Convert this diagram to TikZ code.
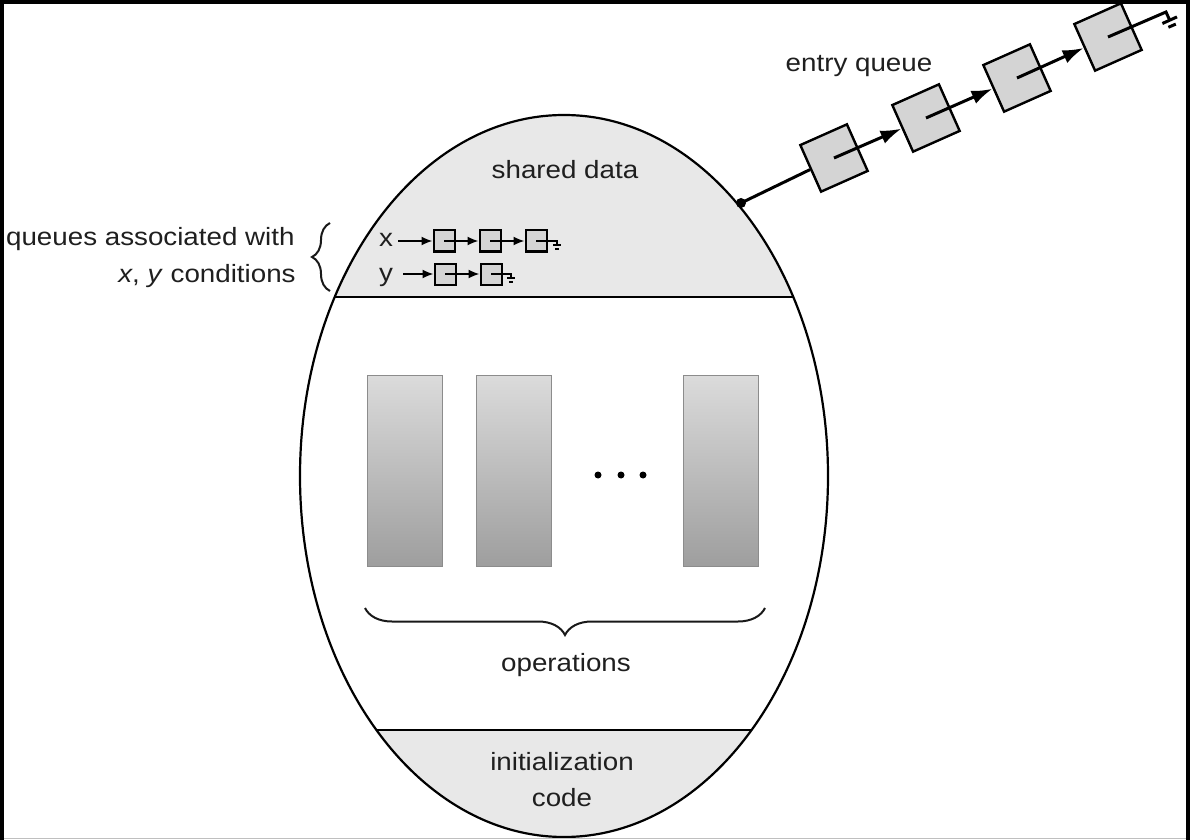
\documentclass[tikz,border=0pt]{standalone}
\usepackage{fontspec}
\setmainfont[FakeStretch=1.11]{Liberation Sans}
\usetikzlibrary{arrows.meta,decorations.pathreplacing,calc}
\begin{document}
\begin{tikzpicture}[x=0.5pt,y=-0.5pt,
  txt/.style={font=\fontsize{12.5pt}{15pt}\selectfont, text=black!88, inner sep=0pt, anchor=base},
  qbox/.style={draw, line width=1pt, fill=black!17, minimum size=10.5pt, inner sep=0pt},
  ebox/.style={draw, line width=1.2pt, fill=black!17, minimum size=25.5pt, inner sep=0pt, rotate=24},
  opbox/.style={draw=black!45, line width=0.5pt, top color=black!14, bottom color=black!38, minimum width=37.5pt, minimum height=95.5pt, inner sep=0pt},
  sarrow/.style={line width=0.9pt, -{Latex[length=5.5pt,width=4.5pt]}},
  earrow/.style={line width=1.5pt, -{Latex[length=10.5pt,width=7pt]}},
  gnd/.style={line width=0.9pt},
  egnd/.style={line width=1.5pt},
  brc/.style={decorate, line width=1pt, black!90},
  ]
\useasboundingbox (0,0) rectangle (1190,840);
\fill[white] (0,0) rectangle (1190,840);

% egg regions
\begin{scope}
  \clip (564,476) ellipse [x radius=264, y radius=361];
  \fill[black!9] (250,100) rectangle (880,297);
  \fill[black!9] (250,730) rectangle (880,850);
  \draw[line width=1.3pt] (250,297) -- (880,297);
  \draw[line width=1.3pt] (250,730) -- (880,730);
\end{scope}
\draw[line width=1.1pt] (564,476) ellipse [x radius=264, y radius=361];

% texts
\node[txt] (sd) at (565,178) {shared data};
\node[txt, anchor=base east] (q1) at (295,246) {queues associated with};
\node[txt, anchor=base east] (q2) at (296,282) {\textit{x}, \textit{y} conditions};
\node[txt] (eq) at (859,72) {entry queue};
\node[txt] (ops) at (566,671) {operations};
\node[txt] (in1) at (562,770) {initialization};
\node[txt] (in2) at (562,806) {code};

% braces
\draw[brc, decoration={brace, amplitude=9pt}] (330,291) -- (330,223);
\draw[brc, decoration={brace, amplitude=13.5pt}] (765,608) -- (365,608);

% condition queues
\node[txt] (lx) at (386,247) {x};
\node[txt] (ly) at (386,281) {y};
\node[qbox] (x1) at (444,241) {};
\node[qbox] (x2) at (490,241) {};
\node[qbox] (x3) at (536,241) {};
\coordinate (xs) at (398,241);
\coordinate (xg) at (557,241);
\draw[sarrow] (xs) -- (x1);
\draw[sarrow] (x1.center) -- (x2);
\draw[sarrow] (x2.center) -- (x3);
\draw[gnd] (x3.center) -- (xg) -- ++(0,4);
\draw[gnd] ($(xg)+(-4,4)$) -- ++(8,0);
\draw[gnd] ($(xg)+(-2,8)$) -- ++(4,0);

\node[qbox] (y1) at (445,274) {};
\node[qbox] (y2) at (491,274) {};
\coordinate (ys) at (403,274);
\coordinate (yg) at (511,274);
\draw[sarrow] (ys) -- (y1);
\draw[sarrow] (y1.center) -- (y2);
\draw[gnd] (y2.center) -- (yg) -- ++(0,4);
\draw[gnd] ($(yg)+(-4,4)$) -- ++(8,0);
\draw[gnd] ($(yg)+(-2,8)$) -- ++(4,0);

% operations
\node[opbox] (op1) at (405,470.5) {};
\node[opbox] (op2) at (513.5,470.5) {};
\node[opbox] (op3) at (721,470.5) {};
\fill (598,475) circle [radius=3.5];
\fill (621,475) circle [radius=3.5];
\fill (643,475) circle [radius=3.5];

% entry queue
\coordinate (dot) at (741,203);
\node[ebox] (e1) at (834,158) {};
\node[ebox] (e2) at (926,118) {};
\node[ebox] (e3) at (1017,78) {};
\node[ebox] (e4) at (1108,37) {};
\draw[line width=1.5pt] (dot) -- (e1);
\fill (dot) circle [radius=5];
\draw[earrow] (e1.center) -- (e2);
\draw[earrow] (e2.center) -- (e3);
\draw[earrow] (e3.center) -- (e4);
\coordinate (eg) at (1166,12);
\draw[egnd] (e4.center) -- (eg) -- ($(eg)+(3.7,8.2)$);
\draw[egnd] ($(eg)+(-3.6,11.5)$) -- ($(eg)+(11,4.9)$);
\draw[egnd] ($(eg)+(2.4,15.3)$) -- ($(eg)+(9.8,12.1)$);

% frame
\fill[black] (0,0) rectangle (1190,4);
\fill[black] (0,0) rectangle (4,840);
\fill[black] (1186,0) rectangle (1190,840);
\draw[black!25, line width=0.5pt] (4,838.5) -- (1186,838.5);
\end{tikzpicture}
\end{document}
